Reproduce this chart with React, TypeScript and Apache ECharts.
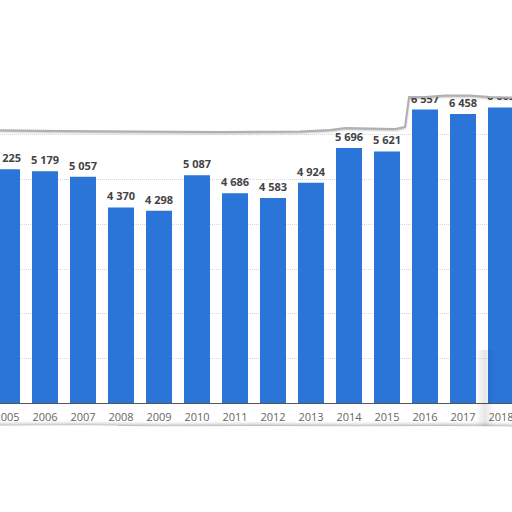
import { useEffect, useRef } from 'react';
import * as echarts from 'echarts';

const years = ['2005', '2006', '2007', '2008', '2009', '2010', '2011', '2012', '2013', '2014', '2015', '2016', '2017', '2018'];
const values = [5225, 5179, 5057, 4370, 4298, 5087, 4686, 4583, 4924, 5696, 5621, 6557, 6458, 6605];

// torn paper edges (page pixels)
const topEdge = [
  [0, 130], [60, 131], [140, 131.5], [220, 132], [300, 131.5], [330, 130], [345, 128], [370, 128.5],
  [395, 129], [405, 127], [407, 112], [409, 97], [425, 97], [445, 95.5], [470, 95.5], [490, 97], [512, 98],
];
const bottomEdge = [
  [0, 426], [80, 425.5], [160, 426.5], [260, 426], [360, 426.5], [440, 426], [512, 427],
];

const SHIFT = 12; // chart canvas starts 12px left of the page
const fmt = (v: number) => String(v).replace(/\B(?=(\d{3})+(?!\d))/g, ' ');
const toChart = (pts: number[][]) =>
  pts.map(([x, y]) => [(x === 0 ? -10 : x === 512 ? 530 : x) + SHIFT, y]);

export default function App() {
  const chartRef = useRef<HTMLDivElement>(null);

  useEffect(() => {
    if (!chartRef.current) return;
    const chart = echarts.init(chartRef.current, null, { renderer: 'svg' });

    const top = toChart(topEdge);
    const bottom = toChart(bottomEdge);

    const option = {
      animation: false,
      backgroundColor: '#ffffff',
      textStyle: { fontFamily: 'Open Sans' },
      grid: { left: 0, right: 0, top: 45, bottom: 109 },
      xAxis: {
        type: 'category',
        data: years,
        axisTick: { show: false },
        axisLine: { lineStyle: { color: '#555', width: 1 } },
        axisLabel: { color: '#666', fontSize: 11, margin: 8 },
      },
      yAxis: {
        type: 'value',
        min: 0,
        max: 8000,
        interval: 1000,
        axisLabel: { show: false },
        axisLine: { show: false },
        axisTick: { show: false },
        splitLine: { lineStyle: { color: '#d8d8d8', type: 'dotted' } },
      },
      series: [
        {
          type: 'bar',
          data: values,
          barWidth: 26,
          itemStyle: { color: '#2a75d7' },
          label: {
            show: true,
            position: 'top',
            distance: 6,
            color: '#444',
            fontSize: 11,
            fontWeight: 'bold',
            formatter: (p: any) => fmt(p.value),
          },
        },
      ],
      graphic: [
        {
          type: 'rect',
          z: 90,
          shape: { x: 476 + SHIFT, y: 350, width: 18, height: 76 },
          style: {
            fill: new echarts.graphic.LinearGradient(0, 0, 1, 0, [
              { offset: 0, color: 'rgba(0,0,0,0)' },
              { offset: 0.5, color: 'rgba(0,0,0,0.1)' },
              { offset: 1, color: 'rgba(0,0,0,0)' },
            ]),
          },
        },
        {
          type: 'polygon',
          z: 100,
          shape: { points: [[0, -5], [545, -5], ...top.slice().reverse()] },
          style: { fill: '#fff', shadowColor: 'rgba(0,0,0,0.45)', shadowBlur: 3, shadowOffsetY: 1 },
        },
        {
          type: 'polyline',
          z: 101,
          shape: { points: top },
          style: { stroke: '#b0b0b0', lineWidth: 2, fill: null },
        },
        {
          type: 'polygon',
          z: 100,
          shape: { points: [...bottom, [545, 520], [0, 520]] },
          style: { fill: '#fff', shadowColor: 'rgba(0,0,0,0.4)', shadowBlur: 4, shadowOffsetY: -1 },
        },
      ],
    };

    chart.setOption(option);
    return () => chart.dispose();
  }, []);

  return (
    <div style={{ position: 'absolute', left: 0, top: 0, width: 512, height: 512, overflow: 'hidden' }}>
      <div ref={chartRef} style={{ position: 'absolute', left: -SHIFT, top: 0, width: 532, height: 512 }} />
    </div>
  );
}
